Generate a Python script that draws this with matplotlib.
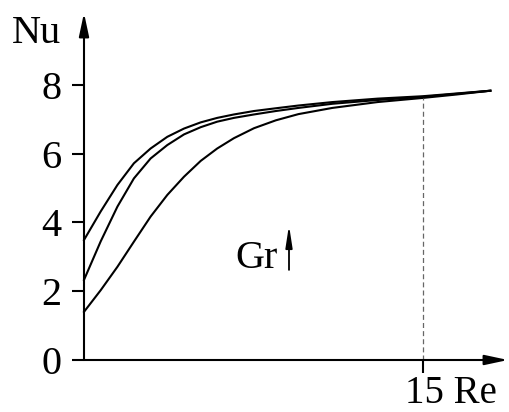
import matplotlib
matplotlib.use("Agg")
import matplotlib.pyplot as plt

plt.rcParams['font.family'] = ['Liberation Serif', 'DejaVu Serif']

# Re values and Nu curves (three Gr values)
re = [0, 0.74, 1.48, 2.21, 2.95, 3.69, 4.43, 5.17, 5.9, 6.64, 7.53, 8.5, 9.5, 11.0, 13.0, 15.0, 16.5, 18.0]
nu_a = [3.49, 4.32, 5.09, 5.72, 6.15, 6.49, 6.73, 6.91, 7.04, 7.14, 7.24, 7.32, 7.4, 7.5, 7.6, 7.67, 7.75, 7.83]
nu_b = [2.33, 3.45, 4.46, 5.28, 5.86, 6.25, 6.56, 6.77, 6.93, 7.04, 7.14, 7.24, 7.33, 7.45, 7.56, 7.65, 7.74, 7.83]
nu_c = [1.4, 2.03, 2.71, 3.44, 4.17, 4.8, 5.33, 5.79, 6.15, 6.45, 6.74, 6.97, 7.15, 7.33, 7.5, 7.62, 7.72, 7.83]
yticks = [0, 2, 4, 6, 8]
re_mark = 15
nu_mark = 7.62

fig = plt.figure(figsize=(5.09, 4.12), dpi=100)
ax = fig.add_axes([84/509, 52/412, 424/509, 347/412])
ax.set_xlim(0, 18.78)
ax.set_ylim(0, 10.09)

for nu in (nu_a, nu_b, nu_c):
    ax.plot(re, nu, color='black', lw=1.5, solid_joinstyle='round', clip_on=False)

ax.plot([re_mark, re_mark], [0, nu_mark], color='#666666', lw=0.9, ls=(0, (4, 2.5)))

for s in ax.spines.values():
    s.set_visible(False)

# axes with arrows
arrow = dict(arrowstyle='-|>,head_length=1.4,head_width=0.3', color='black', lw=1.5, shrinkA=0, shrinkB=0)
ax.annotate('', xy=(0, 1), xytext=(0, 0), xycoords='axes fraction', arrowprops=arrow)
ax.annotate('', xy=(1, 0), xytext=(0, 0), xycoords='axes fraction', arrowprops=arrow)

ax.set_yticks(yticks)
ax.set_yticklabels([str(v) for v in yticks])
ax.set_xticks([re_mark])
ax.set_xticklabels([''])
ax.tick_params(axis='y', length=9, width=1.5, pad=7, labelsize=29)
ax.tick_params(axis='x', length=9, width=1.5, direction='out')

ax.text(14.2, -1.25, '15 Re', ha='left', va='baseline', fontsize=28)
ax.text(-3.19, 9.49, 'Nu', ha='left', va='center', fontsize=29)
ax.text(6.69, 2.67, 'Gr', ha='left', va='baseline', fontsize=29)
ax.annotate('', xy=(9.08, 3.92), xytext=(9.08, 2.62),
            arrowprops=dict(arrowstyle='-|>,head_length=1.3,head_width=0.2', color='black', lw=1.3, shrinkA=0, shrinkB=0))

fig.savefig('out.png', dpi=100)
